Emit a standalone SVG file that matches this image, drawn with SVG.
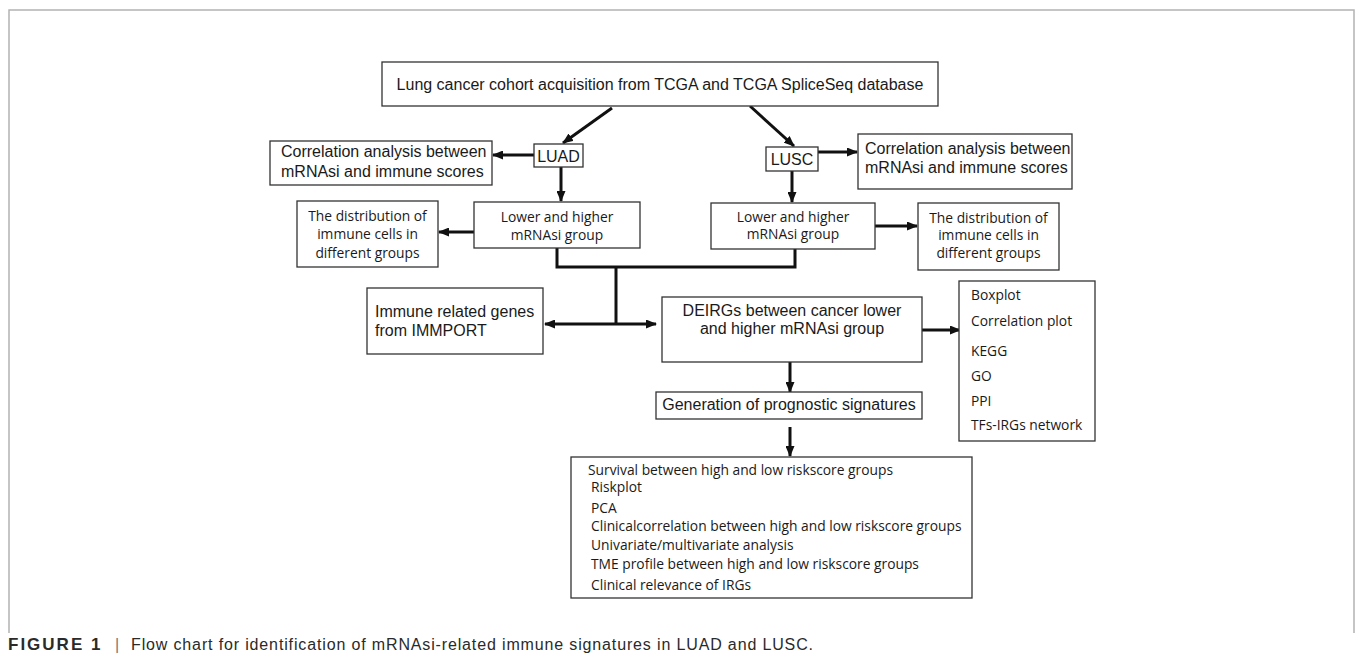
<svg xmlns="http://www.w3.org/2000/svg" width="1355" height="662" viewBox="0 0 1355 662">
<defs>
<marker id="ah" markerUnits="userSpaceOnUse" markerWidth="11" markerHeight="9" refX="10" refY="4.5" orient="auto">
<path d="M0,0 L11,4.5 L0,9 z" fill="#111"/>
</marker>
<marker id="ahs" markerUnits="userSpaceOnUse" markerWidth="11" markerHeight="9" refX="1" refY="4.5" orient="auto">
<path d="M11,0 L0,4.5 L11,9 z" fill="#111"/>
</marker>
<style>
.box{fill:#fff;stroke:#333;stroke-width:1.3}
.a{font-family:"Liberation Sans",Arial,sans-serif;font-size:16px;fill:#1a1a1a}
.c{font-family:"Open Sans","Noto Sans",sans-serif;font-size:13.8px;fill:#1a1a1a}
.m{text-anchor:middle}
.con{fill:none;stroke:#111;stroke-width:3}
.frame{fill:none;stroke:#b3b3b3;stroke-width:1.5}
.cap{font-family:"Liberation Sans",Arial,sans-serif;font-size:16px;fill:#2a2a2a}
</style>
</defs>
<rect width="1355" height="662" fill="#fff"/>
<path class="frame" d="M9,633 L9,10 L1354,10 L1354,633"/>

<g id="connectors">
<line class="con" x1="612" y1="108" x2="563" y2="143" marker-end="url(#ah)"/>
<line class="con" x1="750" y1="106" x2="794" y2="146" marker-end="url(#ah)"/>
<line class="con" x1="534" y1="155" x2="493" y2="155" marker-end="url(#ah)"/>
<line class="con" x1="818" y1="152" x2="857" y2="152" marker-end="url(#ah)"/>
<line class="con" x1="561" y1="167" x2="561" y2="201" marker-end="url(#ah)"/>
<line class="con" x1="792" y1="171" x2="792" y2="202" marker-end="url(#ah)"/>
<line class="con" x1="474" y1="232" x2="439" y2="232" marker-end="url(#ah)"/>
<line class="con" x1="875" y1="226" x2="917" y2="226" marker-end="url(#ah)"/>
<polyline class="con" points="557,248 557,267 795,267 795,249"/>
<line class="con" x1="616" y1="267" x2="616" y2="324"/>
<line class="con" x1="545" y1="324" x2="656" y2="324" marker-start="url(#ahs)" marker-end="url(#ah)"/>
<line class="con" x1="922" y1="330" x2="960" y2="330" marker-end="url(#ah)"/>
<line class="con" x1="790" y1="362" x2="790" y2="392" marker-end="url(#ah)"/>
<line class="con" x1="790" y1="427" x2="790" y2="456" marker-end="url(#ah)"/>
</g>

<g id="top">
<rect class="box" x="382" y="62" width="556" height="44"/>
<text class="a m" x="660" y="90">Lung cancer cohort acquisition from TCGA and TCGA SpliceSeq database</text>
</g>
<g id="luad">
<rect class="box" x="534" y="144" width="49" height="23"/>
<text class="a m" x="558.5" y="162">LUAD</text>
</g>
<g id="lusc">
<rect class="box" x="766" y="147" width="52" height="24"/>
<text class="a m" x="792" y="165">LUSC</text>
</g>
<g id="corr-left">
<rect class="box" x="270" y="141" width="222" height="44"/>
<text class="a" x="281" y="157">Correlation analysis between</text>
<text class="a" x="281" y="177">mRNAsi and immune scores</text>
</g>
<g id="corr-right">
<rect class="box" x="858" y="134" width="214" height="55"/>
<text class="a" x="865" y="154">Correlation analysis between</text>
<text class="a" x="865" y="173">mRNAsi and immune scores</text>
</g>
<g id="lower-left">
<rect class="box" x="474" y="202" width="166" height="46"/>
<text class="c m" x="557" y="222">Lower and higher</text>
<text class="c m" x="557" y="240">mRNAsi group</text>
</g>
<g id="lower-right">
<rect class="box" x="711" y="203" width="164" height="46"/>
<text class="c m" x="793" y="222">Lower and higher</text>
<text class="c m" x="793" y="239">mRNAsi group</text>
</g>
<g id="dist-left">
<rect class="box" x="297" y="201" width="141" height="66"/>
<text class="c m" x="367.5" y="221">The distribution of</text>
<text class="c m" x="367.5" y="239">immune cells in</text>
<text class="c m" x="367.5" y="258">different groups</text>
</g>
<g id="dist-right">
<rect class="box" x="918" y="203" width="141" height="67"/>
<text class="c m" x="988.5" y="223">The distribution of</text>
<text class="c m" x="988.5" y="240">immune cells in</text>
<text class="c m" x="988.5" y="258">different groups</text>
</g>
<g id="immune">
<rect class="box" x="367" y="288" width="176" height="66"/>
<text class="a" x="375" y="317">Immune related genes</text>
<text class="a" x="375" y="336">from IMMPORT</text>
</g>
<g id="deirgs">
<rect class="box" x="662" y="297" width="260" height="65"/>
<text class="a m" x="792" y="316">DEIRGs between cancer lower</text>
<text class="a m" x="792" y="334">and higher mRNAsi group</text>
</g>
<g id="generation">
<rect class="box" x="656" y="392" width="266" height="27"/>
<text class="a m" x="789" y="410">Generation of prognostic signatures</text>
</g>
<g id="analyses">
<rect class="box" x="959" y="281" width="136" height="160"/>
<text class="c" x="971" y="300">Boxplot</text>
<text class="c" x="971" y="326">Correlation plot</text>
<text class="c" x="971" y="356">KEGG</text>
<text class="c" x="971" y="381">GO</text>
<text class="c" x="971" y="406">PPI</text>
<text class="c" x="971" y="430">TFs-IRGs network</text>
</g>
<g id="results">
<rect class="box" x="571" y="457" width="401" height="141"/>
<text class="c" x="588" y="475">Survival between high and low riskscore groups</text>
<text class="c" x="591" y="492">Riskplot</text>
<text class="c" x="591" y="513">PCA</text>
<text class="c" x="591" y="531">Clinicalcorrelation between high and low riskscore groups</text>
<text class="c" x="591" y="550">Univariate/multivariate analysis</text>
<text class="c" x="591" y="569">TME profile between high and low riskscore groups</text>
<text class="c" x="591" y="590">Clinical relevance of IRGs</text>
</g>

<g id="caption">
<text class="cap" y="650"><tspan x="8" font-weight="bold" font-size="17" letter-spacing="2">FIGURE 1</tspan><tspan x="115" fill="#777">|</tspan><tspan x="131" textLength="682" lengthAdjust="spacing">Flow chart for identification of mRNAsi-related immune signatures in LUAD and LUSC.</tspan></text>
</g>
</svg>
